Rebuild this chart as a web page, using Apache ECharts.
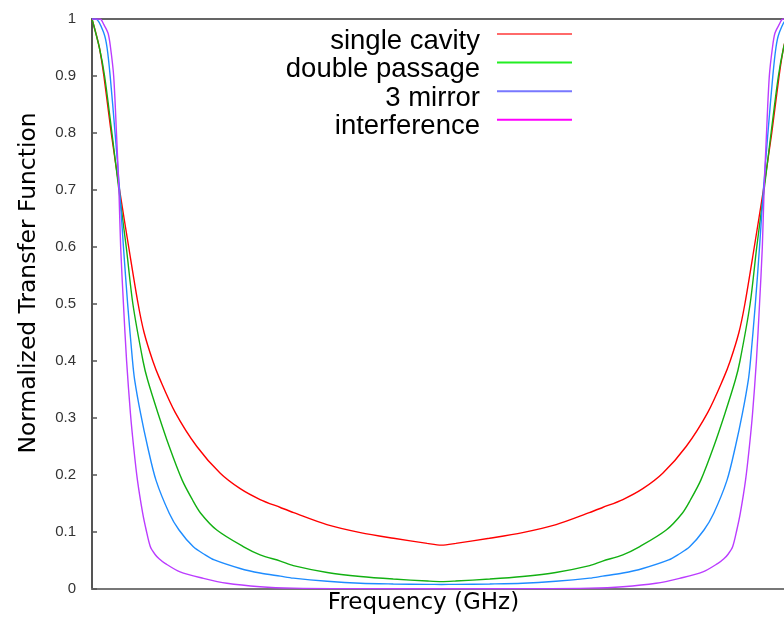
<!DOCTYPE html>
<html>
<head>
<meta charset="utf-8">
<script src="https://cdn.jsdelivr.net/npm/echarts@6/dist/echarts.min.js"></script>
<style>html,body{margin:0;padding:0;background:#fff;overflow:hidden;}#c{width:784px;height:617px;}</style>
</head>
<body>
<div id="c"></div>
<script>
// Series names
const seriesNames = ['single cavity', 'double passage', '3 mirror', 'interference'];
// Y tick labels (0 .. 1 step 0.1)
const yTicks = [0, 0.1, 0.2, 0.3, 0.4, 0.5, 0.6, 0.7, 0.8, 0.9, 1];

// single cavity (frequency in arbitrary units, -1 .. 1)
const redX = [-1.000, -0.979, -0.966, -0.945, -0.921, -0.895, -0.868, -0.851, -0.826, -0.807, -0.762, -0.700, -0.633, -0.576, -0.519, -0.461, -0.423, -0.328, -0.232, -0.137, -0.041, 0.000,
               0.041, 0.137, 0.232, 0.328, 0.423, 0.461, 0.519, 0.576, 0.633, 0.700, 0.762, 0.807, 0.826, 0.851, 0.868, 0.895, 0.921, 0.945, 0.966, 0.979, 1.000];
const redY = [1.000, 0.950, 0.900, 0.800, 0.700, 0.600, 0.500, 0.450, 0.400, 0.370, 0.310, 0.250, 0.203, 0.176, 0.157, 0.143, 0.134, 0.113, 0.099, 0.089, 0.080, 0.077,
               0.080, 0.089, 0.099, 0.113, 0.134, 0.143, 0.157, 0.176, 0.203, 0.250, 0.310, 0.370, 0.400, 0.450, 0.500, 0.600, 0.700, 0.800, 0.900, 0.950, 1.000];

// double passage
const greenX = [-1.000, -0.979, -0.964, -0.943, -0.923, -0.902, -0.883, -0.854, -0.841, -0.811, -0.779, -0.742, -0.713, -0.689, -0.643, -0.566, -0.519, -0.461, -0.424, -0.327, -0.232, -0.138, -0.040, 0.000,
                 0.040, 0.138, 0.232, 0.327, 0.424, 0.461, 0.519, 0.566, 0.643, 0.689, 0.713, 0.742, 0.779, 0.811, 0.841, 0.854, 0.883, 0.902, 0.923, 0.943, 0.964, 0.979, 1.000];
const greenY = [1.000, 0.950, 0.900, 0.800, 0.700, 0.600, 0.500, 0.400, 0.367, 0.308, 0.250, 0.191, 0.157, 0.133, 0.1035, 0.074, 0.060, 0.049, 0.041, 0.029, 0.022, 0.0175, 0.014, 0.013,
                 0.014, 0.0175, 0.022, 0.029, 0.041, 0.049, 0.060, 0.074, 0.1035, 0.133, 0.157, 0.191, 0.250, 0.308, 0.367, 0.400, 0.500, 0.600, 0.700, 0.800, 0.900, 0.950, 1.000];

// 3 mirror
const blueX = [-1.000, -0.989, -0.966, -0.957, -0.948, -0.934, -0.921, -0.910, -0.898, -0.884, -0.878, -0.861, -0.841, -0.817, -0.779, -0.751, -0.710, -0.679, -0.650, -0.576, -0.519, -0.461, -0.424, -0.327, -0.232, -0.138, -0.040, 0.000,
                0.040, 0.138, 0.232, 0.327, 0.424, 0.461, 0.519, 0.576, 0.650, 0.679, 0.710, 0.751, 0.779, 0.817, 0.841, 0.861, 0.878, 0.884, 0.898, 0.910, 0.921, 0.934, 0.948, 0.957, 0.966, 0.989, 1.000];
const blueY = [1.000, 1.000, 0.975, 0.950, 0.900, 0.800, 0.700, 0.600, 0.500, 0.400, 0.367, 0.308, 0.250, 0.191, 0.133, 0.1035, 0.074, 0.061, 0.051, 0.036, 0.028, 0.0225, 0.019, 0.0135, 0.010, 0.0088, 0.0082, 0.008,
                0.0082, 0.0088, 0.010, 0.0135, 0.019, 0.0225, 0.028, 0.036, 0.051, 0.061, 0.074, 0.1035, 0.133, 0.191, 0.250, 0.308, 0.367, 0.400, 0.500, 0.600, 0.700, 0.800, 0.900, 0.950, 0.975, 1.000, 1.000];

// interference
const magX = [-1.000, -0.977, -0.966, -0.954, -0.947, -0.938, -0.930, -0.923, -0.918, -0.910, -0.901, -0.890, -0.881, -0.870, -0.855, -0.845, -0.833, -0.820, -0.808, -0.791, -0.748, -0.681, -0.614, -0.519, -0.424, -0.232, 0.000,
               0.232, 0.424, 0.519, 0.614, 0.681, 0.748, 0.791, 0.808, 0.820, 0.833, 0.845, 0.855, 0.870, 0.881, 0.890, 0.901, 0.910, 0.918, 0.923, 0.930, 0.938, 0.947, 0.954, 0.966, 0.977, 1.000];
const magY = [1.000, 1.000, 0.990, 0.975, 0.950, 0.900, 0.800, 0.700, 0.600, 0.500, 0.400, 0.308, 0.250, 0.191, 0.133, 0.1035, 0.074, 0.061, 0.053, 0.045, 0.030, 0.0187, 0.010, 0.004, 0.0015, 0.0006, 0.0004,
               0.0006, 0.0015, 0.004, 0.010, 0.0187, 0.030, 0.045, 0.053, 0.061, 0.074, 0.1035, 0.133, 0.191, 0.250, 0.308, 0.400, 0.500, 0.600, 0.700, 0.800, 0.900, 0.950, 0.975, 0.990, 1.000, 1.000];

const lineColors = ['#ff0000', '#12b012', '#1e8cff', '#bb3cff'];
const legendColors = ['#ff6a6a', '#22ee22', '#7878ff', '#ff00ff'];
const xs = [redX, greenX, blueX, magX];
const ys = [redY, greenY, blueY, magY];

const chart = echarts.init(document.getElementById('c'), null, {renderer: 'canvas'});
const series = seriesNames.map((n, i) => ({
  name: n,
  type: 'line',
  symbol: 'none',
  smooth: 0.3,
  clip: true,
  data: xs[i].map((x, k) => [x, ys[i][k]]),
  lineStyle: {color: lineColors[i], width: 1.4},
  itemStyle: {color: lineColors[i]},
  animation: false
}));

const xMin = -1, xMax = 0.98;

chart.setOption({
  animation: false,
  backgroundColor: '#ffffff',
  grid: {left: 92, right: 0, top: 19, bottom: 28, outerBoundsMode: 'none', containLabel: false, show: false},
  legend: {
    orient: 'vertical',
    align: 'right',
    right: 212,
    top: 27,
    padding: 0,
    icon: 'path://M0 0H75V2H0Z M0 15.99H0.01V16H0Z',
    itemWidth: 75,
    itemHeight: 16,
    itemGap: 0.6,
    selectedMode: false,
    textStyle: {fontFamily: 'Liberation Sans', fontSize: 27.5, color: '#000', lineHeight: 28, padding: [0, 12, 0, 0]},
    data: seriesNames.map((n, i) => ({name: n, itemStyle: {color: legendColors[i]}}))
  },
  xAxis: [{
    type: 'value', min: xMin, max: xMax,
    name: 'Frequency (GHz)', nameLocation: 'middle', nameGap: 3,
    nameTextStyle: {fontFamily: 'DejaVu Sans', fontSize: 23, color: '#000', verticalAlign: 'top', padding: [0, 29, 0, 0]},
    axisLine: {show: true, onZero: false, lineStyle: {color: '#777', width: 2}},
    axisTick: {show: false}, axisLabel: {show: false}, splitLine: {show: false}
  }, {
    type: 'value', min: xMin, max: xMax, position: 'top',
    axisLine: {show: true, onZero: false, lineStyle: {color: '#333', width: 1.5}},
    axisTick: {show: false}, axisLabel: {show: false}, splitLine: {show: false}
  }],
  yAxis: {
    type: 'value', min: 0, max: 1, interval: 0.1,
    name: 'Normalized Transfer Function', nameLocation: 'middle', nameGap: 52,
    nameTextStyle: {fontFamily: 'DejaVu Sans', fontSize: 23.4, color: '#000', padding: [0, 0, 0, 42]},
    axisLine: {show: true, onZero: false, lineStyle: {color: '#555', width: 2}},
    axisTick: {show: true, inside: true, length: 5, lineStyle: {color: '#555', width: 1.5}},
    axisLabel: {margin: 16, fontFamily: 'Liberation Sans', fontSize: 15, color: '#333',
      formatter: v => String(yTicks[Math.round(v * 10)])},
    splitLine: {show: false}
  },
  series: series
});
</script>
</body>
</html>
